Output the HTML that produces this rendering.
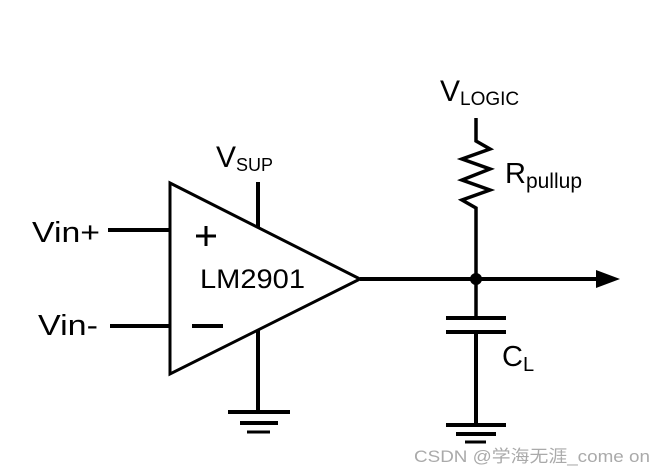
<!DOCTYPE html>
<html><head><style>body{margin:0;background:#fff}svg{display:block}</style></head><body>
<svg width="662" height="475" viewBox="0 0 662 475" xmlns="http://www.w3.org/2000/svg" font-family="'Liberation Sans', 'DejaVu Sans', sans-serif">
<g stroke="#000" stroke-width="4" fill="none">
<polygon points="170,183 170,374 360,279" stroke-width="3"/>
<line x1="258" y1="182" x2="258" y2="228"/>
<line x1="258" y1="330" x2="258" y2="412"/>
<line x1="228" y1="412" x2="290" y2="412"/>
<line x1="240" y1="423" x2="278" y2="423"/>
<line x1="247" y1="432" x2="270" y2="432" stroke-width="3"/>
<line x1="108" y1="230" x2="170" y2="230"/>
<line x1="110" y1="326" x2="170" y2="326"/>
<line x1="192" y1="326" x2="223" y2="326"/>
<line x1="196" y1="236" x2="216" y2="236" stroke-width="3"/>
<line x1="206" y1="226" x2="206" y2="246" stroke-width="3"/>
<line x1="360" y1="279" x2="600" y2="279"/>
<polyline points="476,118 476,141 490,149 462,159 490,169 462,180 490,190 462,200 476,208 476,318" stroke-width="3.5"/>
<line x1="446" y1="318" x2="506" y2="318"/>
<line x1="446" y1="332" x2="506" y2="332"/>
<line x1="476" y1="332" x2="476" y2="425"/>
<line x1="446" y1="425" x2="506" y2="425"/>
<line x1="456" y1="434" x2="496" y2="434"/>
<line x1="465" y1="442" x2="486" y2="442" stroke-width="3"/>
</g>
<polygon points="596,270 620,279 596,288" fill="#000"/>
<circle cx="476" cy="279" r="6" fill="#000"/>
<g fill="#000">
<text x="200" y="288" font-size="27" textLength="105" lengthAdjust="spacingAndGlyphs">LM2901</text>
<text x="32" y="242" font-size="29" textLength="68" lengthAdjust="spacingAndGlyphs">Vin+</text>
<text x="38" y="335" font-size="29" textLength="60" lengthAdjust="spacingAndGlyphs">Vin-</text>
<text x="216" y="167" font-size="30">V<tspan font-size="18" dy="4">SUP</tspan></text>
<text x="440" y="101" font-size="30">V<tspan font-size="19" dy="4">LOGIC</tspan></text>
<text x="505" y="183" font-size="29">R<tspan font-size="21" dy="5">pullup</tspan></text>
<text x="502" y="366" font-size="29">C<tspan font-size="20" dy="5">L</tspan></text>
</g>
<text x="414" y="462" font-size="17" fill="#aaa" textLength="236" lengthAdjust="spacingAndGlyphs" font-family="'Liberation Sans','Noto Sans CJK SC',sans-serif">CSDN @学海无涯_come on</text>
</svg>
</body></html>
